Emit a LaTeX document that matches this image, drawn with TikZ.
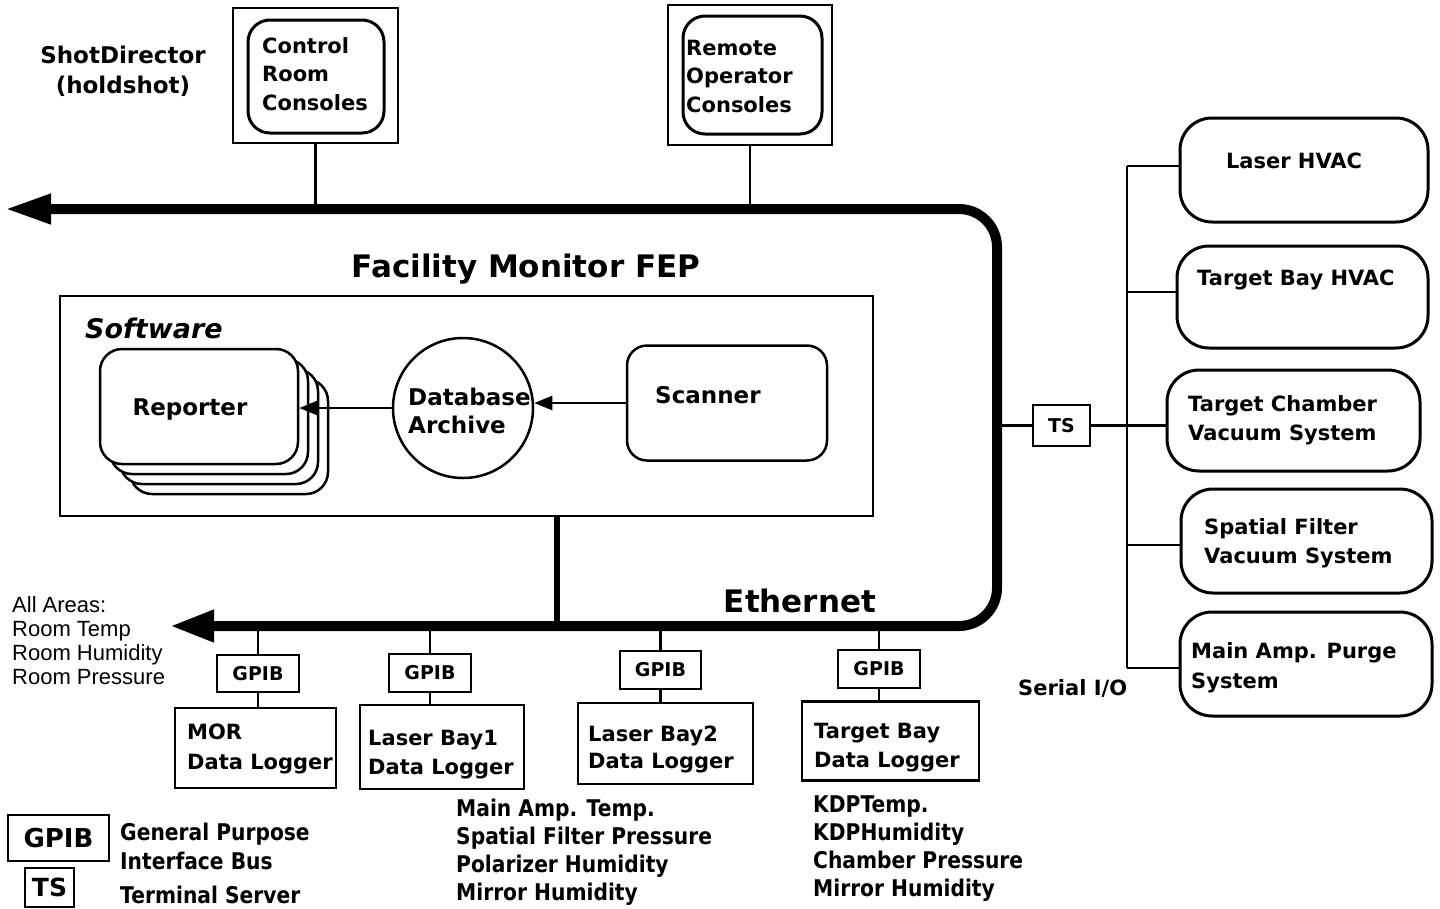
\documentclass[tikz,border=0pt]{standalone}
\usepackage{fontspec}
\setmainfont{DejaVu Sans}
\newfontfamily\helv{Liberation Sans}
\newfontfamily\narrowfont[FakeStretch=0.88]{DejaVu Sans}
\usetikzlibrary{arrows.meta}

% Multi-line labels are anchored on the baseline of their last line.
\tikzset{
  sz/.style 2 args={minimum width=#1pt, minimum height=#2pt},
  box/.style={draw, line width=2.5pt, inner sep=0pt, fill=white},
  rbox/.style={box, line width=3pt, rounded corners=#1},
  link/.style={line width=2.5pt},
  bus/.style={line width=10pt, rounded corners=38pt,
    {Triangle[length=46pt,width=28pt]}-{Triangle[length=44pt,width=30pt]}},
  tip/.style={-{Triangle[length=18pt,width=14pt]}},
  tl/.style={inner sep=0pt, anchor=base west, align=left},
  tc/.style={inner sep=0pt, anchor=base, align=center},
  f21/.style={font=\bfseries\fontsize{21}{28.5}\selectfont},
  f23/.style={font=\bfseries\fontsize{23}{29}\selectfont},
  f19/.style={font=\bfseries\fontsize{19}{19}\selectfont},
  ftitle/.style={font=\bfseries\fontsize{31}{31}\selectfont},
  flist/.style={font=\narrowfont\bfseries\fontsize{23}{28}\selectfont},
  fhelv/.style={font=\helv\fontsize{22}{24}\selectfont},
}

\begin{document}
\begin{tikzpicture}[x=1pt,y=-1pt]
\useasboundingbox (0,0) rectangle (1440,908);
\fill[white] (0,0) rectangle (1440,908);

% ---- operator consoles ----
\node[tc, font=\bfseries\fontsize{23}{30}\selectfont] (shot) at (123,93) {ShotDirector\\(holdshot)};

\node[box, sz={165}{135}] (crcOut) at (315.5,75.5) {};
\node[box, line width=3pt, rounded corners=22pt, sz={136}{113}] (crcIn) at (316,76.5) {};
\node[tl, f21] (crcTxt) at (262,110) {Control\\Room\\Consoles};

\node[box, sz={164}{140}] (rocOut) at (750,75) {};
\node[box, line width=3pt, rounded corners=22pt, sz={139}{118}] (rocIn) at (752.5,75) {};
\node[tl, f21] (rocTxt) at (686,112) {Remote\\Operator\\Consoles};

% ---- ethernet bus ----
\coordinate (busTW) at (5,209);
\coordinate (busNE) at (997,209);
\coordinate (busSE) at (997,626);
\coordinate (busBW) at (170,626);
\draw[bus] (busTW) -- (busNE) -- (busSE) -- (busBW);

\draw[link] (crcOut.south) -- (crcOut.south |- busNE);
\draw[link] (rocOut.south) -- (rocOut.south |- busNE);

\node[tc, ftitle] (fep) at (526,277) {Facility Monitor FEP};
\node[tc, ftitle] (eth) at (800,612) {Ethernet};

% ---- software block ----
\node[box, sz={813}{220}] (sw) at (466.5,406) {};
\node[tl, font=\bfseries\itshape\fontsize{27}{27}\selectfont] (swTxt) at (85,338) {Software};

\foreach \k in {3,2,1}
  \node[box, rounded corners=22pt, sz={198}{115}] (rep\k) at (199+10*\k,406.5+10*\k) {};
\node[box, rounded corners=22pt, sz={198}{115}] (rep) at (199,406.5) {};
\node[tc, f23] (repTxt) at (190,415) {Reporter};

\node[draw, circle, line width=2.5pt, minimum size=140pt, inner sep=0pt, fill=white] (db) at (463,408) {};
\node[tl, font=\bfseries\fontsize{23}{28}\selectfont] (dbTxt) at (408,433) {Database\\Archive};

\node[box, rounded corners=20pt, sz={200}{115}] (scan) at (727,403) {};
\node[tl, f23] (scanTxt) at (655,403) {Scanner};

\draw[link, tip] (scan.west) -- (scan.west -| db.east);
\draw[link, tip] (db.west) -- (db.west -| rep.east);

\coordinate (fepDrop) at (557,516);
\draw[line width=6pt] (fepDrop) -- (fepDrop |- busSE);

% ---- serial I/O side ----
\node[box, sz={57}{41}, f19] (ts) at (1061.5,425.5) {TS};
\draw[link] (ts.west) -- (ts.west -| busSE);

\node[rbox=32pt, sz={248}{104}] (lhvac) at (1304,170) {};
\node[rbox=32pt, sz={251}{102}] (tbhvac) at (1302.5,297) {};
\node[rbox=32pt, sz={253}{101}] (tcvs) at (1293.5,420.5) {};
\node[rbox=32pt, sz={251}{104}] (sfvs) at (1306.5,541) {};
\node[rbox=32pt, sz={252}{104}] (maps) at (1306,664) {};

\node[tc, f21] (lhvacTxt) at (1294,168) {Laser HVAC};
\node[tl, f21] (tbhvacTxt) at (1197,285) {Target Bay HVAC};
\node[tl, font=\bfseries\fontsize{21}{29}\selectfont] (tcvsTxt) at (1188,440) {Target Chamber\\Vacuum System};
\node[tl, font=\bfseries\fontsize{21}{29}\selectfont] (sfvsTxt) at (1204,563) {Spatial Filter\\Vacuum System};
\node[tl, font=\bfseries\fontsize{21}{30}\selectfont] (mapsTxt) at (1191,688) {Main Amp. Purge\\System};

\coordinate (tr1) at (1127,166);
\coordinate (tr2) at (1127,292);
\coordinate (tr4) at (1127,545);
\coordinate (tr5) at (1127,668);
\draw[link] (tr1) -- (tr5);
\draw[link] (tr1) -- (tr1 -| lhvac.west);
\draw[link] (tr2) -- (tr2 -| tbhvac.west);
\draw[link] (ts.east) -- (ts.east -| tcvs.west);
\draw[link] (tr4) -- (tr4 -| sfvs.west);
\draw[link] (tr5) -- (tr5 -| maps.west);

\node[tl, f21] (serTxt) at (1018,695) {Serial I/O};

% ---- GPIB data loggers ----
\node[tl, fhelv] (areasTxt) at (12,684) {All Areas:\\Room Temp\\Room Humidity\\Room Pressure};

\node[box, sz={82}{37}, f19] (g1) at (258,673.5) {GPIB};
\node[box, sz={82}{38}, f19] (g2) at (430,673) {GPIB};
\node[box, sz={81}{38}, f19] (g3) at (660.5,670) {GPIB};
\node[box, sz={82}{38}, f19] (g4) at (879,669) {GPIB};

\node[box, sz={161}{80}] (l1) at (255.5,748) {};
\node[box, sz={164}{84}] (l2) at (442,747) {};
\node[box, sz={175}{81}] (l3) at (665.5,743.5) {};
\node[box, sz={177}{79}] (l4) at (890.5,741) {};

\foreach \i in {1,2,3,4} {
  \draw[link] (g\i.north) -- (g\i.north |- busSE);
  \draw[link] (g\i.south) -- (g\i.south |- l\i.north);
}

\node[tl, font=\bfseries\fontsize{21}{30}\selectfont] (l1Txt) at (187,769) {MOR\\Data Logger};
\node[tl, font=\bfseries\fontsize{21}{29}\selectfont] (l2Txt) at (368,774) {Laser Bay1\\Data Logger};
\node[tl, font=\bfseries\fontsize{21}{27}\selectfont] (l3Txt) at (588,768) {Laser Bay2\\Data Logger};
\node[tl, font=\bfseries\fontsize{21}{29}\selectfont] (l4Txt) at (814,767) {Target Bay\\Data Logger};

\node[tl, flist] (lb1List) at (456,900) {Main Amp. Temp.\\Spatial Filter Pressure\\Polarizer Humidity\\Mirror Humidity};
\node[tl, flist] (tbList) at (813,896) {KDPTemp.\\KDPHumidity\\Chamber Pressure\\Mirror Humidity};

% ---- legend ----
\node[box, sz={101}{46}, font=\bfseries\fontsize{26}{26}\selectfont] (legG) at (58.5,838) {GPIB};
\node[tl, font=\narrowfont\bfseries\fontsize{23}{29}\selectfont] (legGTxt) at (120,869) {General Purpose\\Interface Bus};
\node[box, sz={49}{39}, font=\bfseries\fontsize{25}{25}\selectfont] (legT) at (49.5,887.5) {TS};
\node[tl, flist] (legTTxt) at (120,903) {Terminal Server};
\end{tikzpicture}
\end{document}
